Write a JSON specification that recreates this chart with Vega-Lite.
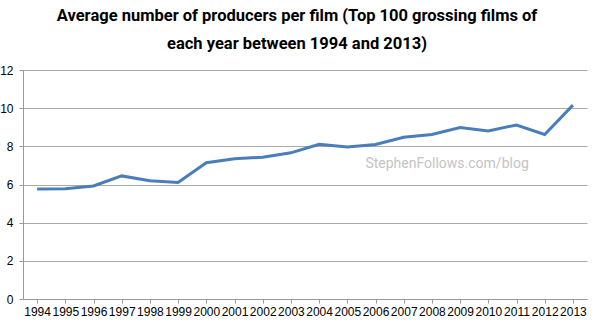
{
  "$schema": "https://vega.github.io/schema/vega-lite/v6.json",
  "width": 564,
  "height": 229,
  "autosize": {"type": "none"},
  "padding": {"left": 23, "top": 70, "right": 13, "bottom": 26},
  "background": "white",
  "title": {
    "text": ["Average number of producers per film (Top 100 grossing films of", "each year between 1994 and 2013)"],
    "font": "Roboto",
    "fontSize": 16.5,
    "fontWeight": "bold",
    "color": "black",
    "lineHeight": 28,
    "anchor": "middle",
    "dx": -8,
    "offset": 12
  },
  "config": {
    "view": {"stroke": null},
    "axis": {"labelFont": "Liberation Sans", "labelFontSize": 12, "labelColor": "black"}
  },
  "datasets": {
    "main": [
      {"year": "1994", "producers": 5.76},
      {"year": "1995", "producers": 5.78},
      {"year": "1996", "producers": 5.92},
      {"year": "1997", "producers": 6.45},
      {"year": "1998", "producers": 6.2},
      {"year": "1999", "producers": 6.11},
      {"year": "2000", "producers": 7.14},
      {"year": "2001", "producers": 7.35},
      {"year": "2002", "producers": 7.43},
      {"year": "2003", "producers": 7.66},
      {"year": "2004", "producers": 8.11},
      {"year": "2005", "producers": 7.97},
      {"year": "2006", "producers": 8.1},
      {"year": "2007", "producers": 8.48},
      {"year": "2008", "producers": 8.62},
      {"year": "2009", "producers": 8.99},
      {"year": "2010", "producers": 8.81},
      {"year": "2011", "producers": 9.12},
      {"year": "2012", "producers": 8.62},
      {"year": "2013", "producers": 10.16}
    ],
    "watermark": [
      {"year": "2009", "producers": 7.07, "label": "StephenFollows.com/blog"}
    ]
  },
  "encoding": {
    "x": {
      "field": "year", "type": "ordinal", "title": null,
      "scale": {"paddingInner": 0, "paddingOuter": 0},
      "axis": {
        "labelAngle": 0, "bandPosition": 0, "domainColor": "#999", "tickColor": "#999",
        "tickSize": 4, "labelPadding": 3, "grid": false, "labelOverlap": false
      }
    },
    "y": {
      "field": "producers", "type": "quantitative", "title": null,
      "scale": {"domain": [0, 12], "nice": false},
      "axis": {
        "values": [0, 2, 4, 6, 8, 10, 12], "domainColor": "#999", "tickColor": "#999",
        "tickSize": 4, "gridColor": "#aaa", "labelPadding": 6, "labelOverlap": false
      }
    }
  },
  "layer": [
    {
      "data": {"name": "main"},
      "mark": {"type": "line", "color": "#4a7ebb", "strokeWidth": 3}
    },
    {
      "data": {"name": "watermark"},
      "mark": {"type": "text", "font": "Roboto", "fontSize": 14, "color": "#c4c4c4", "dx": -13, "align": "center", "baseline": "middle"},
      "encoding": {
        "text": {"field": "label"}
      }
    }
  ]
}
